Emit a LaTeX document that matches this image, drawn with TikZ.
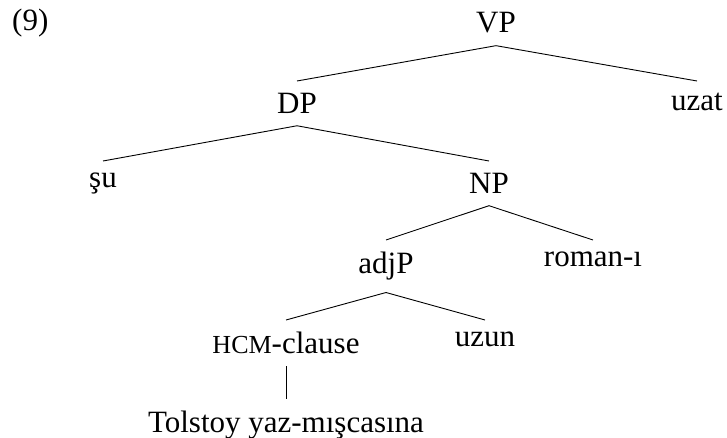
\documentclass[tikz,border=0pt]{standalone}
\usepackage{fontspec}
\setmainfont{Liberation Serif}
\newcommand{\smcapsHCM}{{\fontsize{26}{30}\selectfont HCM}}
\begin{document}
\begin{tikzpicture}[x=1pt,y=-1pt,
  lab/.style={font=\fontsize{31}{37}\selectfont, inner xsep=0pt, inner ysep=12pt},
  branch/.style={line width=0.9pt}]
\useasboundingbox (0,0) rectangle (727,438);
\node[lab, anchor=base west, inner ysep=0pt] (num) at (12,31) {(9)};
\node[lab, anchor=base] (VP) at (496,33) {VP};
\node[lab, anchor=north] (DP) at (297,81) {DP};
\node[lab, anchor=north] (uzat) at (697,81) {uzat};
\node[lab, anchor=north] (su) at (103,161) {şu};
\node[lab, anchor=north] (NP) at (489,161) {NP};
\node[lab, anchor=north] (adjP) at (386,240) {adjP};
\node[lab, anchor=north] (roman) at (593,240) {roman-ı};
\node[lab, anchor=north] (HCM) at (286,320) {\smcapsHCM-clause};
\node[lab, anchor=north] (uzun) at (485,320) {uzun};
\node[lab, anchor=north] (Tol) at (286,399) {Tolstoy yaz-mışcasına};
\draw[branch] (DP.north) -- (VP.south) -- (uzat.north);
\draw[branch] (su.north) -- (DP.south) -- (NP.north);
\draw[branch] (adjP.north) -- (NP.south) -- (roman.north);
\draw[branch] (HCM.north) -- (adjP.south) -- (uzun.north);
\draw[branch] (HCM.south) -- (Tol.north);
\end{tikzpicture}
\end{document}
